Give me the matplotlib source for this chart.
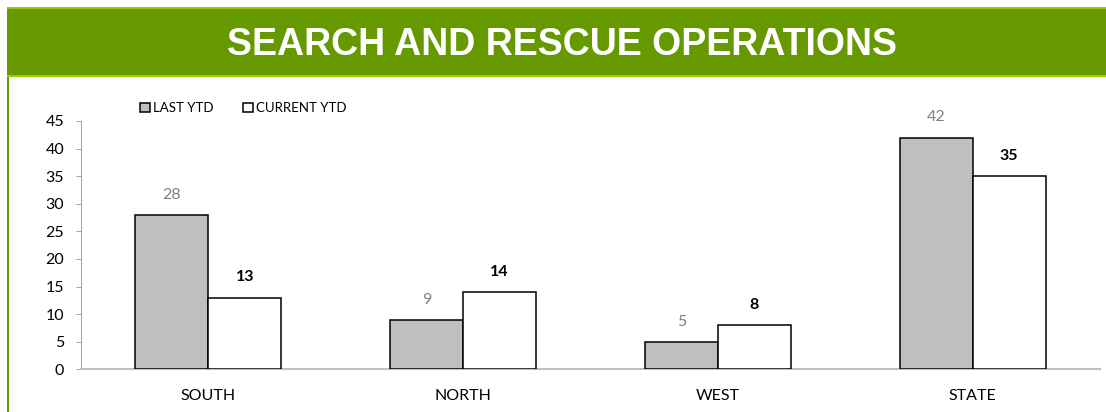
import matplotlib
matplotlib.use("Agg")
import matplotlib.pyplot as plt
from matplotlib.patches import Rectangle, Patch
import numpy as np

# data
regions = ["SOUTH", "NORTH", "WEST", "STATE"]
last_ytd = [28, 9, 5, 42]
current_ytd = [13, 14, 8, 35]
series_names = ["LAST YTD", "CURRENT YTD"]
yticks = [0, 5, 10, 15, 20, 25, 30, 35, 40, 45]

W, H = 1106, 412
DARK_GREEN = "#669900"
LIGHT_GREEN = "#99cc00"
AXIS_GREY = "#bfbfbf"

plt.rcParams["font.family"] = ["Lato", "DejaVu Sans"]

fig = plt.figure(figsize=(W / 100, H / 100), dpi=100)


def fx(px):
    return px / W


def fy(py):
    # py measured from the top edge
    return 1 - py / H


# header band + left border
fig.patches.append(Rectangle((fx(7), fy(77)), fx(W - 7), 70 / H,
                             transform=fig.transFigure, facecolor=DARK_GREEN,
                             edgecolor="none", zorder=0))
fig.patches.append(Rectangle((fx(7), fy(9)), fx(W - 7), 2 / H,
                             transform=fig.transFigure, facecolor=LIGHT_GREEN,
                             edgecolor="none", zorder=1))
fig.patches.append(Rectangle((fx(7), fy(77)), fx(W - 7), 2 / H,
                             transform=fig.transFigure, facecolor=LIGHT_GREEN,
                             edgecolor="none", zorder=1))
fig.patches.append(Rectangle((fx(7), 0), fx(2), fy(77),
                             transform=fig.transFigure, facecolor=DARK_GREEN,
                             edgecolor="none", zorder=1))

fig.text(fx(562), fy(55), "SEARCH AND RESCUE OPERATIONS", ha="center",
         va="baseline", color="white", fontsize=27, fontweight="bold",
         family="Liberation Sans")

ax = fig.add_axes([fx(81), fy(369.3), fx(1100 - 81), (369.3 - 121) / H])

x = np.arange(len(regions))
bw = 0.287
b1 = ax.bar(x - bw / 2, last_ytd, bw, color="#bfbfbf", edgecolor="black",
            linewidth=1.1, label=series_names[0], zorder=3)
b2 = ax.bar(x + bw / 2, current_ytd, bw, color="white", edgecolor="black",
            linewidth=1.1, label=series_names[1], zorder=3)

for rect, v in zip(b1, last_ytd):
    ax.annotate(str(v), (rect.get_x() + rect.get_width() / 2, v),
                xytext=(0, 14.5), textcoords="offset points", ha="center",
                va="center", fontsize=11.5, color="#808080")
for rect, v in zip(b2, current_ytd):
    ax.annotate(str(v), (rect.get_x() + rect.get_width() / 2, v),
                xytext=(0, 14.5), textcoords="offset points", ha="center",
                va="center", fontsize=11.5, color="black", fontweight="bold")

ax.set_xlim(-0.5, len(regions) - 0.5)
ax.set_ylim(0, 45)
ax.set_yticks(yticks)
ax.set_xticks(x)
ax.set_xticklabels(regions)

for s in ["top", "right"]:
    ax.spines[s].set_visible(False)
ax.spines["left"].set_color("#a6a6a6")
ax.spines["left"].set_linewidth(0.75)
ax.spines["bottom"].set_color(AXIS_GREY)
ax.spines["bottom"].set_linewidth(1.5)
ax.tick_params(axis="y", length=3.6, width=0.75, color="#a6a6a6",
               labelsize=11.5, pad=8.5, labelcolor="black")
ax.tick_params(axis="x", length=0, labelsize=11.5, pad=14, labelcolor="black")

fig.legend(handles=[Patch(facecolor="#bfbfbf", edgecolor="black", linewidth=1.1),
                    Patch(facecolor="white", edgecolor="black", linewidth=1.1)],
           labels=series_names, loc="center left",
           bbox_to_anchor=(fx(140), fy(108)), ncol=2, frameon=False,
           fontsize=9.5, handlelength=0.75, handleheight=0.75,
           handletextpad=0.25, columnspacing=2.2, borderpad=0,
           borderaxespad=0)

fig.savefig("out.png", dpi=100)
